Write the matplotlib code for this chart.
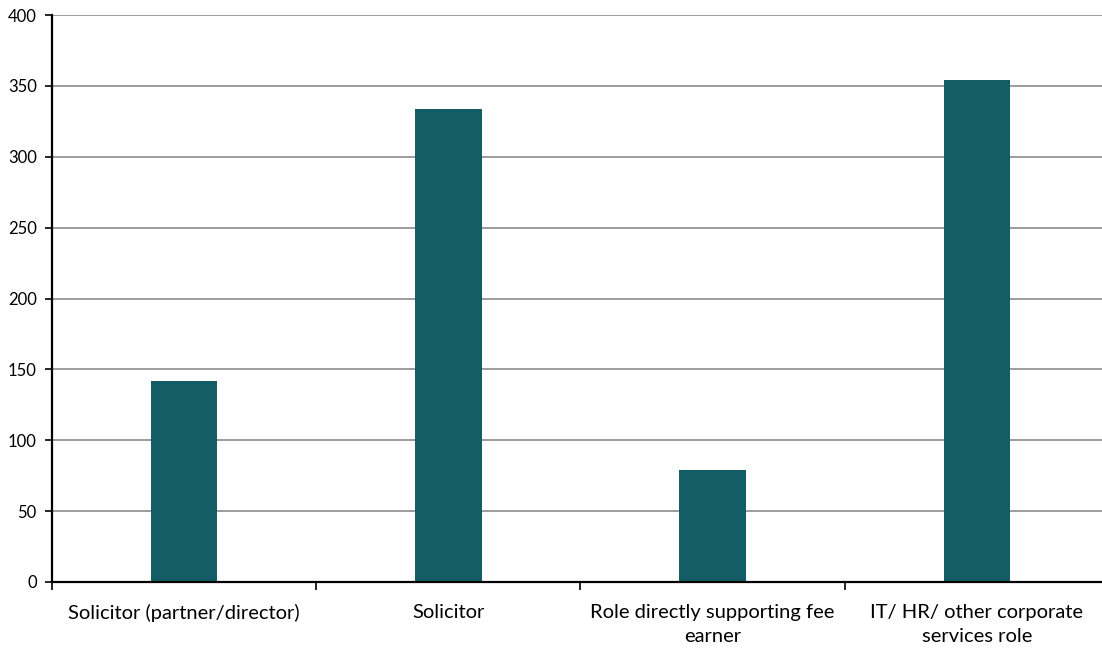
import matplotlib.pyplot as plt
import numpy as np

categories = ['Solicitor (partner/director)', 'Solicitor',
              'Role directly supporting fee\nearner',
              'IT/ HR/ other corporate\nservices role']
counts = [142, 334, 79, 354]
y_ticks = [0, 50, 100, 150, 200, 250, 300, 350, 400]

plt.rcParams['font.family'] = ['Lato', 'DejaVu Sans']

fig = plt.figure(figsize=(11.02, 6.51), dpi=100)
W, H = 1102, 651
# axes box in pixels (right edge runs a bit past the picture, as in the reference)
left, right, top, bottom = 52, 1109, 15, 582
ax = fig.add_axes([left/W, (H-bottom)/H, (right-left)/W, (bottom-top)/H])

x = np.arange(len(categories))
ax.bar(x, counts, width=0.252, color='#135E66', zorder=3)

ax.set_xlim(-0.5, len(categories)-0.5)
ax.set_ylim(0, 400)
ax.set_yticks(y_ticks)
ax.yaxis.grid(True, color='#8c8c8c', linewidth=1.2, zorder=0)

# category boundaries get the tick marks, labels sit at the centres
ax.set_xticks(np.arange(-0.5, len(categories), 1.0))
ax.set_xticklabels([])
ax.set_xticks(x, minor=True)
ax.set_xticklabels(categories, minor=True, fontsize=14.5, linespacing=1.45)
ax.tick_params(axis='x', which='major', length=6, width=1.2, direction='out')
ax.tick_params(axis='x', which='minor', length=0, pad=16)
ax.tick_params(axis='y', length=5, width=1.2, labelsize=12, pad=6)

for side in ['top', 'right']:
    ax.spines[side].set_visible(False)
for side in ['left', 'bottom']:
    ax.spines[side].set_linewidth(1.6)
    ax.spines[side].set_zorder(4)

fig.savefig('out.png', dpi=100)
